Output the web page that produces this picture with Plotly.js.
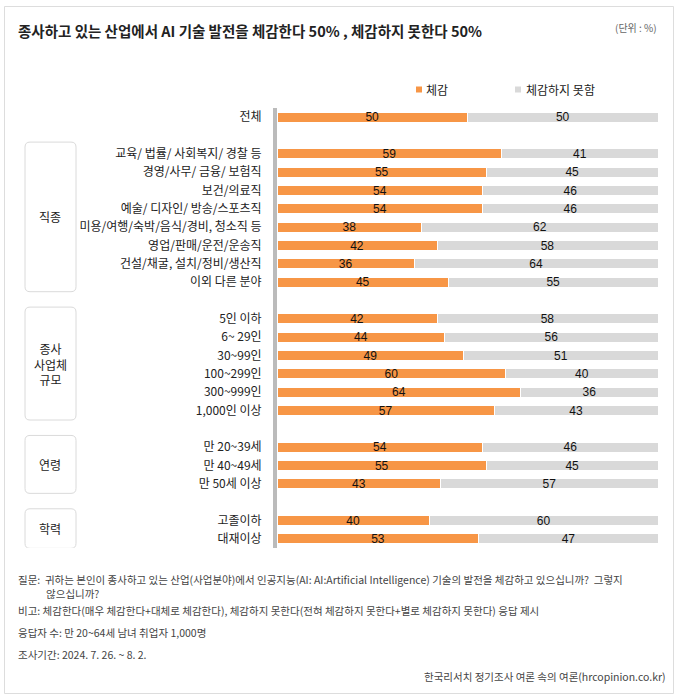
<!DOCTYPE html>
<html>
<head>
<meta charset="utf-8">
<script src="https://cdn.plot.ly/plotly-3.0.1.min.js"></script>
<style>
  html, body { margin: 0; padding: 0; background: #fff; }
  #chart { width: 678px; height: 700px; }
</style>
</head>
<body>
<div id="chart"></div>
<script>
// ---- data ----
const categories = [
  '전체',
  '교육/ 법률/ 사회복지/ 경찰 등',
  '경영/사무/ 금융/ 보험직',
  '보건/의료직',
  '예술/ 디자인/ 방송/스포츠직',
  '미용/여행/숙박/음식/경비, 청소직 등',
  '영업/판매/운전/운송직',
  '건설/채굴, 설치/정비/생산직',
  '이외 다른 분야',
  '5인 이하',
  '6~ 29인',
  '30~99인',
  '100~299인',
  '300~999인',
  '1,000인 이상',
  '만 20~39세',
  '만 40~49세',
  '만 50세 이상',
  '고졸이하',
  '대재이상'
];
const felt    = [50, 59, 55, 54, 54, 38, 42, 36, 45, 42, 44, 49, 60, 64, 57, 54, 55, 43, 40, 53];
const notFelt = [50, 41, 45, 46, 46, 62, 58, 64, 55, 58, 56, 51, 40, 36, 43, 46, 45, 57, 60, 47];
const groupLabels = ['', '직종', '종사<br>사업체<br>규모', '연령', '학력'];
const groupSizes  = [1, 8, 6, 3, 2];
const seriesNames = ['체감', '체감하지 못함'];

const titleText = '종사하고 있는 산업에서 AI 기술 발전을 체감한다 50% , 체감하지 못한다 50%';
const unitText = '(단위 : %)';
const noteQuestion = '질문:\u00a0\u00a0귀하는 본인이 종사하고 있는 산업(사업분야)에서 인공지능(AI: AI:Artificial Intelligence) 기술의 발전을 체감하고 있으십니까?\u00a0\u00a0그렇지' +
                     '<br>\u3000\u3000\u00a0\u00a0\u00a0않으십니까?';
const noteRemark = '비고: 체감한다(매우 체감한다+대체로 체감한다), 체감하지 못한다(전혀 체감하지 못한다+별로 체감하지 못한다) 응답 제시';
const noteSample = '응답자 수: 만 20~64세 남녀 취업자 1,000명';
const notePeriod = '조사기간: 2024. 7. 26. ~ 8. 2.';
const noteSource = '한국리서치 정기조사 여론 속의 여론(hrcopinion.co.kr)';

// ---- layout helpers ----
const W = 678, H = 700;
const M = {l: 277, r: 20, t: 108, b: 152};
const PW = W - M.l - M.r, PH = H - M.t - M.b;
const px = p => (p - M.l) / PW;           // pixel x -> paper x
const py = p => (H - M.b - p) / PH;       // pixel y -> paper y

// slot positions: one blank slot between groups
const slots = [];
const groupRanges = [];
let s = 0;
groupSizes.forEach((n, gi) => {
  if (gi > 0) s += 1;
  const start = s;
  for (let k = 0; k < n; k++) { slots.push(s); s += 1; }
  groupRanges.push([start, s - 1]);
});
const nSlots = s;

const ORANGE = '#F79646';
const GREY = '#D9D9D9';
const FONT = '"Noto Sans CJK KR", "Noto Sans", sans-serif';
const NUMFONT = '"Liberation Sans", Arial, sans-serif';

const traces = [
  {
    type: 'bar', orientation: 'h', name: seriesNames[0],
    x: felt, y: slots, width: 0.55,
    marker: {color: ORANGE, line: {color: '#ffffff', width: 1}},
    text: felt.map(String), textposition: 'inside', insidetextanchor: 'middle',
    constraintext: 'none', textangle: 0,
    textfont: {family: NUMFONT, size: 12, color: '#111'},
    hoverinfo: 'x+name', showlegend: false
  },
  {
    type: 'bar', orientation: 'h', name: seriesNames[1],
    x: notFelt, y: slots, width: 0.55,
    marker: {color: GREY, line: {color: '#ffffff', width: 1}},
    text: notFelt.map(String), textposition: 'inside', insidetextanchor: 'middle',
    constraintext: 'none', textangle: 0,
    textfont: {family: NUMFONT, size: 12, color: '#111'},
    hoverinfo: 'x+name', showlegend: false
  }
];

// group boxes (rounded)
const shapes = [];
const annotations = [];
function rr(x0, x1, y0, y1, rx, ry) {
  return `M ${x0 + rx},${y0} L ${x1 - rx},${y0} Q ${x1},${y0} ${x1},${y0 + ry} ` +
         `L ${x1},${y1 - ry} Q ${x1},${y1} ${x1 - rx},${y1} L ${x0 + rx},${y1} ` +
         `Q ${x0},${y1} ${x0},${y1 - ry} L ${x0},${y0 + ry} Q ${x0},${y0} ${x0 + rx},${y0} Z`;
}
const slotPx = PH / nSlots;
const bx0 = px(25), bx1 = px(76);
groupRanges.forEach((r, gi) => {
  if (!groupLabels[gi]) return;
  const y0 = r[0] - 0.64, y1 = r[1] + 0.52;
  shapes.push({
    type: 'path', xref: 'paper', yref: 'y',
    path: rr(bx0, bx1, y0, y1, 5 / PW, 5 / slotPx),
    line: {color: '#DADADA', width: 1}, fillcolor: 'rgba(0,0,0,0)'
  });
  annotations.push({
    xref: 'paper', yref: 'y', x: (bx0 + bx1) / 2, y: (y0 + y1) / 2,
    text: groupLabels[gi], showarrow: false, xanchor: 'center', yanchor: 'middle',
    align: 'center', font: {family: FONT, size: 12, color: '#222'}
  });
});

// outer frame
shapes.push({
  type: 'rect', xref: 'paper', yref: 'paper',
  x0: px(4.5), x1: px(673.5), y0: py(693.5), y1: py(6.5),
  line: {color: '#DDDDDD', width: 1}, fillcolor: 'rgba(0,0,0,0)', layer: 'below'
});

// custom legend
const legendItems = [
  {sx: 416, tx: 424, color: ORANGE, name: seriesNames[0]},
  {sx: 515, tx: 524, color: GREY, name: seriesNames[1]}
];
legendItems.forEach(it => {
  shapes.push({
    type: 'rect', xref: 'paper', yref: 'paper',
    x0: px(it.sx), x1: px(it.sx + 6), y0: py(92.5), y1: py(86.5),
    line: {width: 0}, fillcolor: it.color
  });
  annotations.push({
    xref: 'paper', yref: 'paper', x: px(it.tx), y: py(89.5),
    text: it.name, showarrow: false, xanchor: 'left', yanchor: 'middle',
    font: {family: FONT, size: 12, color: '#222'}
  });
});

// unit
annotations.push({
  xref: 'paper', yref: 'paper', x: px(659), y: py(27),
  text: unitText, showarrow: false, xanchor: 'right', yanchor: 'middle',
  font: {family: FONT, size: 10, color: '#666'}
});

// footnotes
const noteFont = {family: FONT, size: 10.5, color: '#444'};
annotations.push({xref: 'paper', yref: 'paper', x: px(16), y: py(570), text: noteQuestion,
  showarrow: false, xanchor: 'left', yanchor: 'top', align: 'left', font: noteFont});
annotations.push({xref: 'paper', yref: 'paper', x: px(16), y: py(610), text: noteRemark,
  showarrow: false, xanchor: 'left', yanchor: 'middle', font: noteFont});
annotations.push({xref: 'paper', yref: 'paper', x: px(16), y: py(632), text: noteSample,
  showarrow: false, xanchor: 'left', yanchor: 'middle', font: noteFont});
annotations.push({xref: 'paper', yref: 'paper', x: px(16), y: py(654), text: notePeriod,
  showarrow: false, xanchor: 'left', yanchor: 'middle', font: noteFont});
annotations.push({xref: 'paper', yref: 'paper', x: px(668), y: py(676), text: noteSource,
  showarrow: false, xanchor: 'right', yanchor: 'middle', font: noteFont});

const layout = {
  width: W, height: H,
  margin: M,
  paper_bgcolor: '#fff', plot_bgcolor: '#fff',
  barmode: 'stack', bargap: 0,
  showlegend: false,
  title: {
    text: titleText, xref: 'container', yref: 'container',
    x: 18 / W, xanchor: 'left', y: 1 - 32 / H, yanchor: 'middle',
    font: {family: FONT, size: 14.5, color: '#222', weight: 'bold'}
  },
  xaxis: {
    range: [0, 100], showgrid: false, zeroline: false, showticklabels: false,
    showline: false, fixedrange: true
  },
  yaxis: {
    range: [nSlots - 0.5, -0.5], tickmode: 'array', tickvals: slots, ticktext: categories,
    showgrid: false, zeroline: false, showline: true, linecolor: '#BBBBBB', linewidth: 4,
    ticks: 'outside', ticklen: 9, tickcolor: 'rgba(0,0,0,0)',
    tickfont: {family: FONT, size: 12, color: '#222'}, fixedrange: true
  },
  shapes: shapes,
  annotations: annotations
};

Plotly.newPlot('chart', traces, layout, {displayModeBar: false, staticPlot: true});
</script>
</body>
</html>
